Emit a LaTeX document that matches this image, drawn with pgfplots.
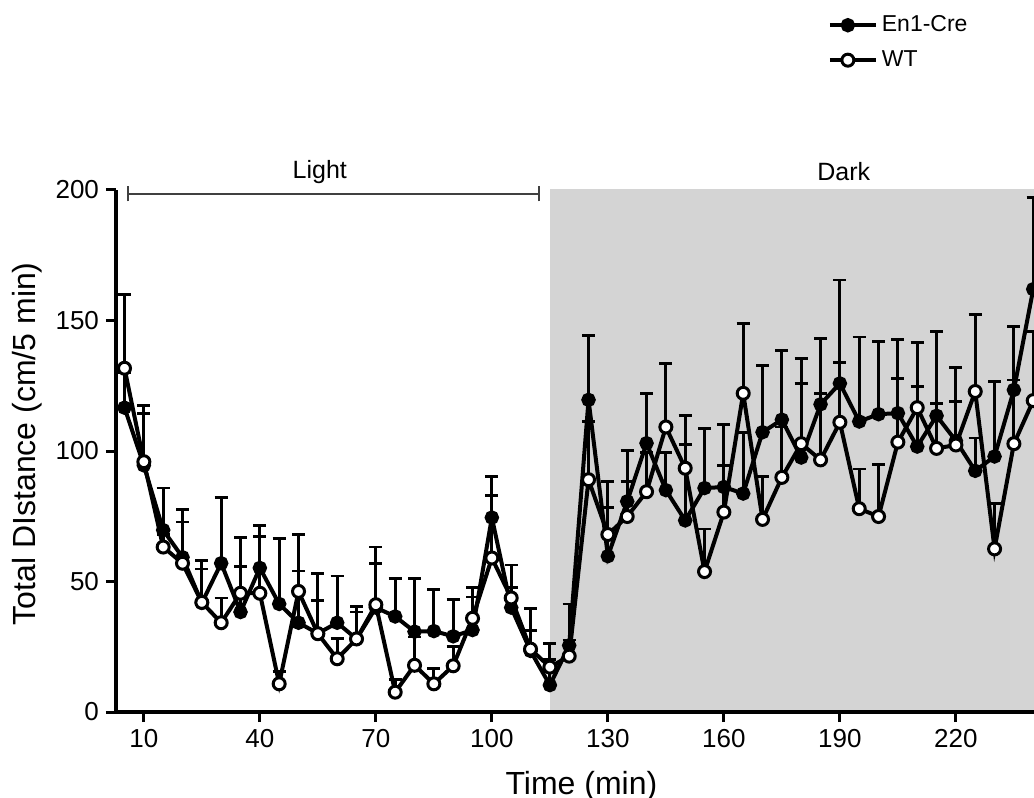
\documentclass[border=0pt]{standalone}
\usepackage{pgfplots}
\pgfplotsset{compat=1.18}
\usepackage{pgfplotstable}
\usepackage{fontspec}
\setmainfont{Liberation Sans}
\definecolor{graybg}{RGB}{212,212,212}

\pgfplotstableread{
x y e
5 116.6 13.4
10 94.5 23.0
15 69.7 16.1
20 59.3 18.4
25 41.8 16.1
30 57.0 25.3
35 38.3 17.6
40 55.2 16.2
45 41.4 25.1
50 34.2 19.8
55 30.1 23.0
60 34.2 17.9
65 28.0 12.3
70 40.0 16.8
75 36.6 14.4
80 30.8 20.2
85 31.0 15.9
90 29.0 14.2
95 31.4 12.7
100 74.5 15.8
105 40.0 7.6
110 23.4 16.3
115 10.3 9.7
120 25.5 15.9
125 119.6 24.8
130 59.7 18.5
135 80.7 19.6
140 103.0 19.0
145 85.0 14.3
150 73.4 29.1
155 85.8 22.9
160 86.2 24.1
165 83.7 23.5
170 107.2 25.6
175 112.0 26.6
180 97.5 28.3
185 117.9 25.1
190 125.9 39.6
195 111.3 32.4
200 114.1 27.9
205 114.5 28.3
210 101.7 22.9
215 113.5 32.3
220 103.9 28.1
225 92.4 12.6
230 97.9 28.7
235 123.4 24.2
240 162.0 35.2
}\enone

\pgfplotstableread{
x y e
5 131.7 28.3
10 95.9 18.6
15 63.2 4.8
20 57.0 15.8
25 42.0 12.8
30 34.2 9.5
35 45.5 21.4
40 45.5 21.7
45 10.8 4.6
50 46.2 21.8
55 30.0 12.8
60 20.4 7.7
65 28.0 10.3
70 41.1 22.1
75 7.6 4.8
80 17.9 10.8
85 10.8 5.8
90 17.7 7.5
95 35.9 11.7
100 59.0 23.8
105 43.7 12.6
110 24.1 7.2
115 17.2 9.0
120 21.4 6.2
125 89.0 22.3
130 68.0 20.3
135 74.9 13.4
140 84.4 14.9
145 109.2 24.3
150 93.4 20.1
155 53.8 16.3
160 76.6 17.9
165 122.1 26.9
170 73.8 16.3
175 89.9 19.3
180 102.8 32.6
185 96.6 25.4
190 111.0 22.8
195 77.9 15.2
200 74.9 20.0
205 103.4 24.5
210 116.6 25.1
215 101.0 17.2
220 102.3 16.6
225 122.8 29.6
230 62.5 17.5
235 102.8 24.4
240 119.3 26.6
}\wt

\begin{document}
\begin{tikzpicture}
\begin{axis}[
  anchor=south west, at={(0pt,0pt)},
  scale only axis, width=459pt, height=261pt,
  xmin=2.8, xmax=240.2, ymin=0, ymax=200,
  clip=false, axis on top,
  axis x line*=bottom, axis y line*=left,
  axis line style={line width=1.7pt, -},
  xtick={10,40,...,220}, ytick={0,50,...,200},
  minor tick num=0,
  tick align=outside, major tick length=5pt,
  tick style={line width=1.5pt, black},
  /pgf/number format/assume math mode=true,
  ticklabel style={font=\fontsize{13}{15}\selectfont},
  xlabel={Time (min)}, ylabel={Total DIstance (cm/5 min)},
  label style={font=\fontsize{16}{19}\selectfont},
  xlabel style={at={(axis description cs:0.507,-0.1417)}, anchor=center},
  ylabel style={at={(axis description cs:-0.0969,0.514)}, anchor=center},
  legend image code/.code={\draw[mark repeat=2,mark phase=2] plot coordinates {(0pt,0pt)(9pt,0pt)(18pt,0pt)}; \path (18pt,0pt) -- (23pt,0pt);},
  legend style={draw=none, fill=none, font=\fontsize{11.5}{13}\selectfont,
    at={(axis description cs:0.7685,1.350)}, anchor=north west, row sep=4pt},
  legend cell align=left,
]
\fill[graybg] (axis cs:115,0) rectangle (axis cs:240.2,200.5);
\draw[line width=0.8pt, black!75] (axis cs:5.86,198.5) -- (axis cs:112.2,198.5);
\draw[line width=0.8pt, black!75] (axis cs:5.86,198.5) ++(0pt,-3.75pt) -- ++(0pt,7.5pt);
\draw[line width=0.8pt, black!75] (axis cs:112.2,198.5) ++(0pt,-3.75pt) -- ++(0pt,7.5pt);
\node[font=\fontsize{12.5}{14}\selectfont] at (axis cs:55.5,206.9) {Light};
\node[font=\fontsize{12.5}{14}\selectfont] at (axis cs:191,206.9) {Dark};

\addplot[black, line width=2pt, mark=*, mark size=2.6pt,
  error bars/.cd, y dir=plus, y explicit,
  error bar style={line width=1.4pt, black},
  error mark options={rotate=90, line width=1.4pt, mark size=3.25pt, black}]
  table[x=x, y=y, y error=e] {\enone};
\addlegendentry{En1-Cre}
\addplot[black, line width=2pt, mark=*, mark size=3pt, mark options={fill=white, line width=1.5pt},
  error bars/.cd, y dir=plus, y explicit,
  error bar style={line width=1.4pt, black},
  error mark options={rotate=90, line width=1.4pt, mark size=3.25pt, black}]
  table[x=x, y=y, y error=e] {\wt};
\addlegendentry{WT}
\end{axis}
\pgfresetboundingbox
\path[use as bounding box] (-58pt,-43pt) rectangle (459pt,356pt);
\end{tikzpicture}
\end{document}
